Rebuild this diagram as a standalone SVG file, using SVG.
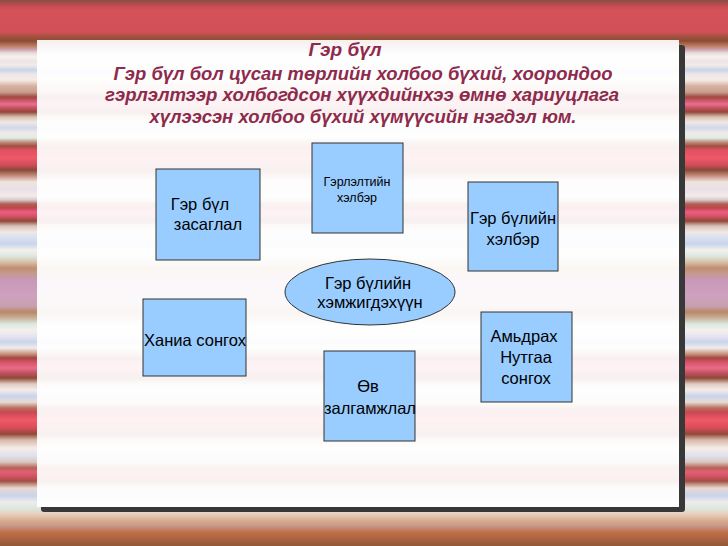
<svg xmlns="http://www.w3.org/2000/svg" width="728" height="546" viewBox="0 0 728 546">
<defs>
<linearGradient id="bg" gradientUnits="userSpaceOnUse" x1="0" y1="0" x2="0" y2="546">
<stop offset="0" stop-color="#8c4c44"/><stop offset=".011" stop-color="#c44c50"/><stop offset=".0183" stop-color="#d45258"/><stop offset=".0586" stop-color="#d25058"/><stop offset=".0678" stop-color="#a0503c"/><stop offset=".0751" stop-color="#8a4c38"/><stop offset=".0824" stop-color="#b87450"/><stop offset=".0897" stop-color="#c89aa8"/><stop offset=".0971" stop-color="#e8dcd8"/><stop offset=".1044" stop-color="#f6f2ee"/><stop offset=".1117" stop-color="#ece4e8"/><stop offset=".1190" stop-color="#f4ece4"/><stop offset=".1282" stop-color="#c8d4ec"/><stop offset=".1355" stop-color="#ece6e8"/><stop offset=".1465" stop-color="#f4ece6"/><stop offset=".1575" stop-color="#d8b0a0"/><stop offset=".1685" stop-color="#c8a090"/><stop offset=".1777" stop-color="#a04840"/><stop offset=".1850" stop-color="#d0586c"/><stop offset=".1905" stop-color="#e87090"/><stop offset=".1978" stop-color="#c85060"/><stop offset=".2051" stop-color="#904838"/><stop offset=".2143" stop-color="#d8c0b0"/><stop offset=".2234" stop-color="#f0e8e4"/><stop offset=".2344" stop-color="#d0d8ec"/><stop offset=".2436" stop-color="#f0ece8"/><stop offset=".2527" stop-color="#e0ece4"/><stop offset=".2601" stop-color="#c09080"/><stop offset=".2674" stop-color="#a05040"/><stop offset=".2747" stop-color="#e05060"/><stop offset=".2894" stop-color="#f05868"/><stop offset=".3022" stop-color="#d04c58"/><stop offset=".3114" stop-color="#8a4a38"/><stop offset=".3223" stop-color="#c89080"/><stop offset=".3333" stop-color="#f0e4e0"/><stop offset=".3480" stop-color="#e8e0e8"/><stop offset=".3590" stop-color="#f4ece8"/><stop offset=".3663" stop-color="#d8c8d0"/><stop offset=".3736" stop-color="#b06050"/><stop offset=".3810" stop-color="#c04450"/><stop offset=".3883" stop-color="#e86080"/><stop offset=".3956" stop-color="#d85068"/><stop offset=".4048" stop-color="#904838"/><stop offset=".4139" stop-color="#d8c0b8"/><stop offset=".4249" stop-color="#f0e8e4"/><stop offset=".4359" stop-color="#d8e0f0"/><stop offset=".4469" stop-color="#c8d4ec"/><stop offset=".4579" stop-color="#f4f0ec"/><stop offset=".4689" stop-color="#dce8e0"/><stop offset=".4799" stop-color="#d8c0a8"/><stop offset=".4908" stop-color="#c09070"/><stop offset=".5018" stop-color="#c89890"/><stop offset=".5128" stop-color="#c898b8"/><stop offset=".5403" stop-color="#d0a0c0"/><stop offset=".5604" stop-color="#c8a0b0"/><stop offset=".5714" stop-color="#b88868"/><stop offset=".5824" stop-color="#c8b098"/><stop offset=".5934" stop-color="#dce8e0"/><stop offset=".6044" stop-color="#f4f0ec"/><stop offset=".6154" stop-color="#e8e4f0"/><stop offset=".6264" stop-color="#c8d4ec"/><stop offset=".6374" stop-color="#f0ece8"/><stop offset=".6484" stop-color="#c89080"/><stop offset=".6557" stop-color="#a04840"/><stop offset=".6630" stop-color="#d85068"/><stop offset=".6740" stop-color="#e86c88"/><stop offset=".6832" stop-color="#c05060"/><stop offset=".6923" stop-color="#904838"/><stop offset=".7033" stop-color="#e0ccc0"/><stop offset=".7143" stop-color="#f4ece8"/><stop offset=".7253" stop-color="#c8d4ec"/><stop offset=".7363" stop-color="#e8dcd4"/><stop offset=".7473" stop-color="#b87060"/><stop offset=".7546" stop-color="#c84850"/><stop offset=".7692" stop-color="#f05868"/><stop offset=".7839" stop-color="#d84c58"/><stop offset=".7949" stop-color="#904838"/><stop offset=".8059" stop-color="#d8b8a8"/><stop offset=".8205" stop-color="#f4ece8"/><stop offset=".8352" stop-color="#e0e0ec"/><stop offset=".8462" stop-color="#d8c8c0"/><stop offset=".8571" stop-color="#b86050"/><stop offset=".8645" stop-color="#e06078"/><stop offset=".8736" stop-color="#d05060"/><stop offset=".8810" stop-color="#a05040"/><stop offset=".8938" stop-color="#e8d8d0"/><stop offset=".9084" stop-color="#c8d4ec"/><stop offset=".9194" stop-color="#f0ece8"/><stop offset=".9304" stop-color="#dce8e0"/><stop offset=".9414" stop-color="#e8d0c0"/><stop offset=".9524" stop-color="#d8b090"/><stop offset=".9634" stop-color="#c89888"/><stop offset=".9744" stop-color="#c07048"/><stop offset=".9890" stop-color="#a86040"/><stop offset="1" stop-color="#905838"/>
</linearGradient>
<filter id="blur" x="-5%" y="-5%" width="110%" height="110%"><feGaussianBlur stdDeviation="0.7"/></filter>
</defs>
<style>
.box{fill:#99ccff;stroke:#333333;stroke-width:1}
.t{font-family:"Liberation Sans","DejaVu Sans",Arial,sans-serif;font-size:16.5px;fill:#000;text-anchor:middle}
.ts{font-size:12.5px}
.title{font-family:"Liberation Sans","DejaVu Sans",Arial,sans-serif;font-size:19px;font-weight:bold;font-style:italic;fill:#8e2a4c;text-anchor:middle}
</style>
<rect id="background" x="0" y="0" width="728" height="546" fill="url(#bg)"/>
<g id="panel">
<rect x="41" y="45" width="644" height="467" rx="3" fill="#383838" filter="url(#blur)"/>
<rect x="37" y="40" width="642" height="467" fill="url(#bg)"/>
<rect x="37" y="40" width="642" height="467" fill="#ffffff" fill-opacity="0.92"/>
</g>
<g id="title">
<text class="title" x="345" y="56">Гэр бүл</text>
<text class="title" x="363" y="80" textLength="499" lengthAdjust="spacingAndGlyphs">Гэр бүл бол цусан төрлийн холбоо бүхий, хоорондоо</text>
<text class="title" x="362" y="101" textLength="514" lengthAdjust="spacingAndGlyphs">гэрлэлтээр холбогдсон хүүхдийнхээ өмнө хариуцлага</text>
<text class="title" x="363" y="123" textLength="427" lengthAdjust="spacingAndGlyphs">хүлээсэн холбоо бүхий хүмүүсийн нэгдэл юм.</text>
</g>
<g id="connectors"></g>
<g id="node-zasaglal">
<rect class="box" x="156" y="169" width="104" height="91"/>
<text class="t" x="200" y="210">Гэр бүл</text>
<text class="t" x="208" y="230">засаглал</text>
</g>
<g id="node-gerleltiin">
<rect class="box" x="312" y="143" width="91" height="90"/>
<text class="t ts" x="357" y="186">Гэрлэлтийн</text>
<text class="t ts" x="357" y="202">хэлбэр</text>
</g>
<g id="node-gerbuliin-helber">
<rect class="box" x="468" y="182" width="90" height="89"/>
<text class="t" x="513" y="224">Гэр бүлийн</text>
<text class="t" x="513" y="245">хэлбэр</text>
</g>
<g id="node-center">
<ellipse cx="370" cy="292" rx="85" ry="33" fill="#99ccff" stroke="#333333" stroke-width="1"/>
<text class="t" x="368" y="289">Гэр бүлийн</text>
<text class="t" x="370" y="308">хэмжигдэхүүн</text>
</g>
<g id="node-hania">
<rect class="box" x="143" y="299" width="103" height="77"/>
<text class="t" x="195" y="346">Ханиа сонгох</text>
</g>
<g id="node-ov">
<rect class="box" x="324" y="351" width="91" height="90"/>
<text class="t" x="368" y="392">Өв</text>
<text class="t" x="370" y="414">залгамжлал</text>
</g>
<g id="node-amidrah">
<rect class="box" x="481" y="312" width="91" height="90"/>
<text class="t" x="524" y="342">Амьдрах</text>
<text class="t" x="526" y="363">Нутгаа</text>
<text class="t" x="526" y="384">сонгох</text>
</g>
</svg>
